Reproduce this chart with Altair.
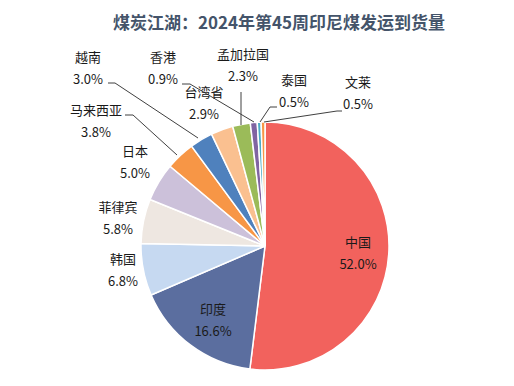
import altair as alt
import pandas as pd

# ---- data ----
countries = ["中国", "印度", "韩国", "菲律宾", "日本", "马来西亚", "越南", "台湾省", "孟加拉国", "香港", "泰国", "文莱"]
shares = [52.0, 16.6, 6.8, 5.8, 5.0, 3.8, 3.0, 2.9, 2.3, 0.9, 0.5, 0.5]
colors = ["#F2625D", "#5B6E9F", "#C6D9F1", "#EEE7E1", "#CCC1DA", "#F79646",
          "#4F81BD", "#FAC090", "#9BBB59", "#8064A2", "#4BACC6", "#F79646"]
title_text = "煤炭江湖：2024年第45周印尼煤发运到货量"

# ---- layout (pixel positions in the view) ----
CX, CY, R = 257, 238, 124
# label centre (name line, pct line below)
label_pos = {
    "中国": (350, 235), "印度": (205, 302), "韩国": (115, 252), "菲律宾": (110, 200),
    "日本": (127, 144), "马来西亚": (88, 103), "越南": (80, 50), "台湾省": (196, 85),
    "孟加拉国": (235, 47), "香港": (155, 50), "泰国": (286, 73), "文莱": (350, 75),
}
leaders = [  # (x1, y1, x2, y2) segments
    (100, 75, 107, 75), (107, 75, 190, 130),          # 越南
    (174, 76, 182, 76), (182, 76, 246, 114),          # 香港
    (117, 107, 125, 107), (125, 107, 169, 147),       # 马来西亚
    (233, 84, 233, 117),                              # 孟加拉国
    (269, 99, 262, 99), (262, 99, 252, 114),          # 泰国
    (334, 103, 329, 103), (329, 103, 256, 114),       # 文莱
]

df = pd.DataFrame({"country": countries, "share": shares, "idx": range(len(countries))})
df["pct"] = [f"{v:.1f}%" for v in shares]
df["lx"] = [label_pos[c][0] for c in countries]
df["ly"] = [label_pos[c][1] for c in countries]
df["ly2"] = df["ly"] + 22
ld = pd.DataFrame(leaders, columns=["x1", "y1", "x2", "y2"])

font = "Noto Sans CJK SC"

shadow = alt.Chart(pd.DataFrame({"v": [1]})).mark_arc(
    outerRadius=R + 1, color="#000000", opacity=0.12
).encode(theta=alt.Theta("v:Q"), x=alt.value(CX + 1), y=alt.value(CY + 3))

pie = alt.Chart(df).mark_arc(outerRadius=R, stroke="white", strokeWidth=1.5).encode(
    theta=alt.Theta("share:Q", stack=True),
    color=alt.Color("country:N", scale=alt.Scale(domain=countries, range=colors), legend=None),
    order=alt.Order("idx:Q"),
    x=alt.value(CX), y=alt.value(CY),
)

lines = alt.Chart(ld).mark_rule(color="#404040", strokeWidth=1).encode(
    x=alt.X("x1:Q", scale=None), y=alt.Y("y1:Q", scale=None),
    x2="x2:Q", y2="y2:Q",
)

names = alt.Chart(df).mark_text(font=font, fontSize=13, color="#1a1a1a", align="center", baseline="middle").encode(
    x=alt.X("lx:Q", scale=None), y=alt.Y("ly:Q", scale=None), text="country:N")
pcts = alt.Chart(df).mark_text(font=font, fontSize=13, color="#1a1a1a", align="center", baseline="middle").encode(
    x=alt.X("lx:Q", scale=None), y=alt.Y("ly2:Q", scale=None), text="pct:N")

title = alt.Chart(pd.DataFrame({"t": [title_text]})).mark_text(
    font=font, fontSize=17, fontWeight="bold", color="#44546A", align="center", baseline="middle"
).encode(x=alt.value(271), y=alt.value(16), text="t:N")

chart = alt.layer(shadow, pie, lines, names, pcts, title).properties(
    width=498, height=370, autosize=alt.AutoSizeParams(type="none"), padding=0
).configure_view(stroke=None)

chart.save("out.html", embed_options={"renderer": "svg", "actions": False})
